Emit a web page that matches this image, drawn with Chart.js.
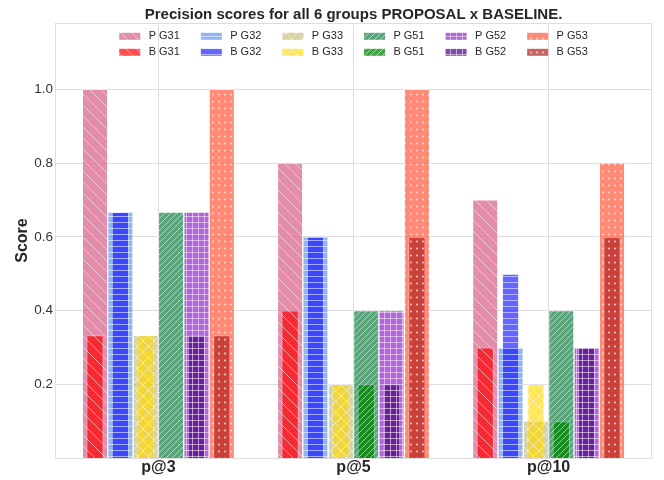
<!DOCTYPE html>
<html>
<head>
<meta charset="utf-8">
<script src="https://cdn.jsdelivr.net/npm/chart.js@4.4.1/dist/chart.umd.min.js"></script>
<style>
  html, body { margin: 0; padding: 0; background: #fff; }
  #wrap { width: 664px; height: 480px; }
</style>
</head>
<body>
<div id="wrap"><canvas id="chart"></canvas></div>
<script>
// categories and groups
const categories = ['p@3', 'p@5', 'p@10'];
const groups = ['G31', 'G32', 'G33', 'G51', 'G52', 'G53'];

// proposal (P) and baseline (B) scores, one value per category
const pG31 = [1.0, 0.8, 0.7];
const bG31 = [0.333, 0.4, 0.3];
const pG32 = [0.667, 0.6, 0.3];
const bG32 = [0.667, 0.6, 0.5];
const pG33 = [0.333, 0.2, 0.1];
const bG33 = [0.333, 0.2, 0.2];
const pG51 = [0.667, 0.4, 0.4];
const bG51 = [0, 0.2, 0.1];
const pG52 = [0.667, 0.4, 0.3];
const bG52 = [0.333, 0.2, 0.3];
const pG53 = [1.0, 1.0, 0.8];
const bG53 = [0.333, 0.6, 0.6];

const yTicks = [0.2, 0.4, 0.6, 0.8, 1.0];

const pSeries = [pG31, pG32, pG33, pG51, pG52, pG53];
const bSeries = [bG31, bG32, bG33, bG51, bG52, bG53];

// bar slot width in category units (6 slots per category)
const slot = 0.13;

// styles
const pColors = ['rgba(219,112,147,0.8)', 'rgba(100,149,237,0.7)', 'rgba(189,183,107,0.62)',
                 'rgba(46,139,87,0.78)', 'rgba(153,50,204,0.75)', 'rgba(255,99,71,0.75)'];
const bColors = ['rgba(255,0,0,0.7)', 'rgba(0,0,255,0.6)', 'rgba(255,215,0,0.65)',
                 'rgba(0,128,0,0.72)', 'rgba(75,0,130,0.7)', 'rgba(178,34,34,0.7)'];
const hatches = [
  { kind: 'back', w: 11, h: 11 },
  { kind: 'horiz', w: 6, h: 6 },
  { kind: 'cross', w: 11, h: 11 },
  { kind: 'fwd', w: 6, h: 6 },
  { kind: 'plus', w: 6, h: 6 },
  { kind: 'dots', w: 6, h: 7 }
];
const gridColor = '#dedede';
const textColor = '#262626';
const font = '"Liberation Sans", Arial, sans-serif';

function makePattern(color, hatch) {
  const c = document.createElement('canvas');
  c.width = hatch.w; c.height = hatch.h;
  const g = c.getContext('2d');
  const w = hatch.w, h = hatch.h;
  g.fillStyle = color;
  g.fillRect(0, 0, w, h);
  g.strokeStyle = 'rgba(255,255,255,0.5)';
  g.fillStyle = 'rgba(255,255,255,0.75)';
  g.lineWidth = 1;
  g.beginPath();
  if (hatch.kind === 'back' || hatch.kind === 'cross') {
    for (const k of [-w, 0, w]) { g.moveTo(k, 0); g.lineTo(k + w, h); }
  }
  if (hatch.kind === 'fwd' || hatch.kind === 'cross') {
    for (const k of [-w, 0, w]) { g.moveTo(k, h); g.lineTo(k + w, 0); }
  }
  if (hatch.kind === 'horiz' || hatch.kind === 'plus') {
    g.moveTo(0, 0.5); g.lineTo(w, 0.5);
  }
  if (hatch.kind === 'plus') {
    g.moveTo(0.5, 0); g.lineTo(0.5, h);
  }
  g.stroke();
  if (hatch.kind === 'dots') {
    g.beginPath();
    g.arc(w / 2, h / 2, 0.9, 0, Math.PI * 2);
    g.fill();
  }
  return g.createPattern(c, 'repeat');
}

// group g sits in its own slot around each category index
const toPoints = (arr, g) => arr.map((v, i) => ({ x: i + (g - (groups.length - 1) / 2) * slot, y: v }));

// baseline first so it is painted on top of the proposal bars
const datasets = [];
groups.forEach((gName, i) => {
  datasets.push({
    label: 'B ' + gName,
    data: toPoints(bSeries[i], i),
    backgroundColor: makePattern(bColors[i], hatches[i]),
    borderColor: 'rgba(255,255,255,0.3)',
    borderWidth: 1,
    grouped: false,
    categoryPercentage: 1,
    barPercentage: 0.68,
    legendCol: i, legendRow: 1
  });
});
groups.forEach((gName, i) => {
  datasets.push({
    label: 'P ' + gName,
    data: toPoints(pSeries[i], i),
    backgroundColor: makePattern(pColors[i], hatches[i]),
    borderColor: 'rgba(255,255,255,0.3)',
    borderWidth: 1,
    grouped: false,
    categoryPercentage: 1,
    barPercentage: 1,
    legendCol: i, legendRow: 0
  });
});

// legend laid out inside the plot, 6 columns x 2 rows
const insideLegend = {
  id: 'insideLegend',
  afterDatasetsDraw(chart) {
    const { ctx, chartArea } = chart;
    const swW = 21, swH = 7, gap = 8.4, colGap = 21, rowH = 16;
    ctx.save();
    ctx.font = '11px ' + font;
    ctx.textBaseline = 'middle';
    ctx.textAlign = 'left';
    const ds = chart.data.datasets;
    const textW = Math.max(...ds.map(d => ctx.measureText(d.label).width));
    const pitch = swW + gap + textW + colGap;
    const total = pitch * groups.length - colGap;
    const x0 = (chartArea.left + chartArea.right) / 2 - total / 2;
    const y0 = chartArea.top + 13.3;
    ds.forEach(d => {
      const x = x0 + d.legendCol * pitch;
      const y = y0 + d.legendRow * rowH;
      ctx.fillStyle = d.backgroundColor;
      ctx.fillRect(x, y - swH / 2, swW, swH);
      ctx.fillStyle = textColor;
      ctx.fillText(d.label, x + swW + gap, y);
    });
    ctx.restore();
  }
};

// top and right frame lines
const frame = {
  id: 'frame',
  beforeDatasetsDraw(chart) {
    const { ctx, chartArea: a } = chart;
    ctx.save();
    ctx.strokeStyle = gridColor;
    ctx.lineWidth = 1;
    ctx.beginPath();
    ctx.moveTo(a.left, Math.round(a.top) + 0.5);
    ctx.lineTo(a.right, Math.round(a.top) + 0.5);
    ctx.moveTo(Math.round(a.right) - 0.5, a.top);
    ctx.lineTo(Math.round(a.right) - 0.5, a.bottom);
    ctx.stroke();
    ctx.restore();
  }
};

const xTicks = categories.map((c, i) => i);

Chart.defaults.font.family = font;
Chart.defaults.color = textColor;

new Chart(document.getElementById('chart'), {
  type: 'bar',
  data: { datasets },
  options: {
    responsive: true,
    maintainAspectRatio: false,
    animation: false,
    events: [],
    layout: { padding: { left: 0, right: 12, top: 0, bottom: 0 } },
    plugins: {
      legend: { display: false },
      tooltip: { enabled: false },
      title: {
        display: true,
        text: 'Precision scores for all 6 groups PROPOSAL x BASELINE.',
        fullSize: false,
        color: textColor,
        font: { size: 15, weight: 'bold', lineHeight: 1 },
        padding: { top: 7, bottom: 1 }
      }
    },
    scales: {
      x: {
        type: 'linear',
        offset: false,
        min: -0.53,
        max: 2.53,
        afterBuildTicks: s => { s.ticks = xTicks.map(v => ({ value: v })); },
        afterFit: s => { s.height = 22; },
        grid: { color: gridColor, drawTicks: false, offset: false },
        border: { color: gridColor },
        ticks: {
          padding: 0,
          color: textColor,
          font: { size: 16, weight: 'bold' },
          callback: (v, i) => categories[i]
        }
      },
      y: {
        min: 0,
        max: 1.18,
        afterBuildTicks: s => { s.ticks = yTicks.map(v => ({ value: v })); },
        afterFit: s => { s.width = 55; },
        grid: { color: gridColor, drawTicks: false },
        border: { color: gridColor },
        ticks: {
          padding: 2,
          color: '#333',
          font: { size: 13.5 },
          callback: v => v.toFixed(1)
        },
        title: {
          display: true,
          text: 'Score',
          color: textColor,
          font: { size: 16, weight: 'bold' },
          padding: { top: 13, bottom: 0 }
        }
      }
    }
  },
  plugins: [frame, insideLegend]
});
</script>
</body>
</html>
